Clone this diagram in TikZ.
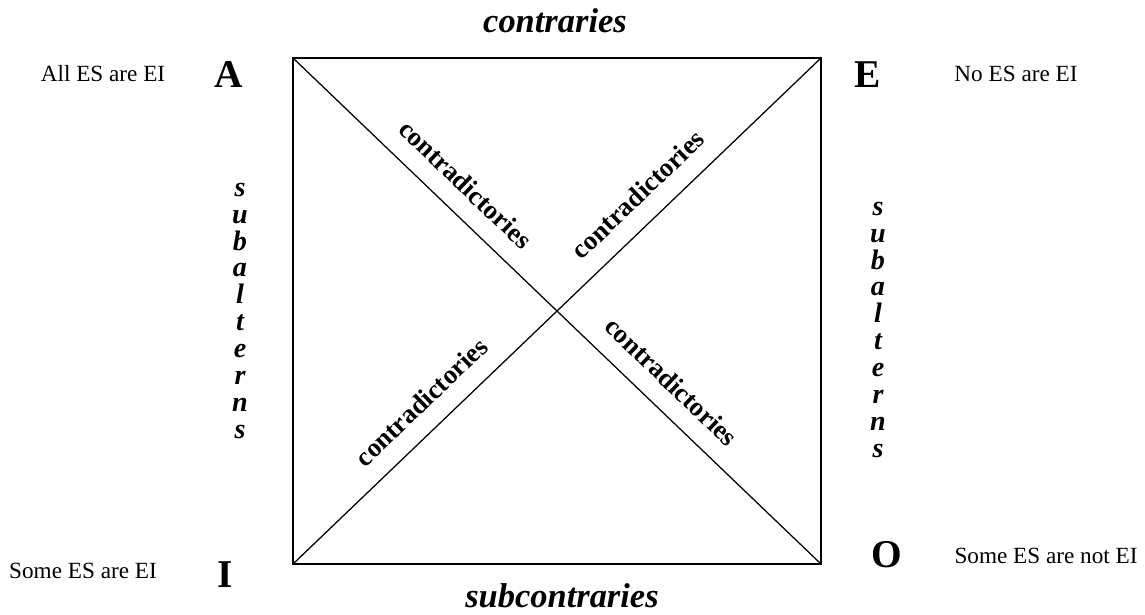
\documentclass[tikz,border=0pt]{standalone}
\usepackage{fontspec}
\setmainfont{Liberation Serif}
\begin{document}
\begin{tikzpicture}[x=0.025cm,y=-0.025cm,
  corner/.style={font=\fontsize{28}{30}\selectfont\bfseries,anchor=base},
  statement/.style={font=\fontsize{16.5}{18}\selectfont,anchor=base},
  relation/.style={font=\fontsize{24.5}{26}\selectfont\bfseries\itshape,anchor=base},
  diaglabel/.style={font=\fontsize{19}{21}\selectfont\bfseries,sloped,above=13pt,inner sep=0pt},
  vertlabel/.style={font=\fontsize{20}{19.2}\selectfont\bfseries\itshape,align=center,inner sep=0pt}]
  \useasboundingbox (0,0) rectangle (1145,614);

  % Square corners
  \coordinate (a) at (293,58);
  \coordinate (e) at (821,58);
  \coordinate (o) at (821,564);
  \coordinate (i) at (293,564);

  % Square
  \draw[line width=1.3pt] (a) -- (e) -- (o) -- (i) -- cycle;

  % Diagonals with their labels
  \draw[line width=0.9pt] (a) -- (o)
    node[diaglabel,pos=0.29] (cdA) {contradictories}
    node[diaglabel,pos=0.68] (cdO) {contradictories};
  \draw[line width=0.9pt] (i) -- (e)
    node[diaglabel,pos=0.28] (cdI) {contradictories}
    node[diaglabel,pos=0.69] (cdE) {contradictories};

  % Corner letters
  \node[corner] (lA) at (229,87) {A};
  \node[corner] (lE) at (868,87) {E};
  \node[corner] (lI) at (225,587) {I};
  \node[corner] (lO) at (887,567) {O};

  % Statements
  \node[statement] (sA) at (103,81) {All ES are EI};
  \node[statement] (sE) at (1016,81) {No ES are EI};
  \node[statement] (sI) at (83,578) {Some ES are EI};
  \node[statement] (sO) at (1046,563) {Some ES are not EI};

  % Relations
  \node[relation] (contr) at (555,32) {contraries};
  \node[relation] (subcontr) at (562,607) {subcontraries};
  \node[vertlabel] (subL) at (240,311) {s\\u\\b\\a\\l\\t\\e\\r\\n\\s};
  \node[vertlabel] (subR) at (878,330) {s\\u\\b\\a\\l\\t\\e\\r\\n\\s};
\end{tikzpicture}
\end{document}
